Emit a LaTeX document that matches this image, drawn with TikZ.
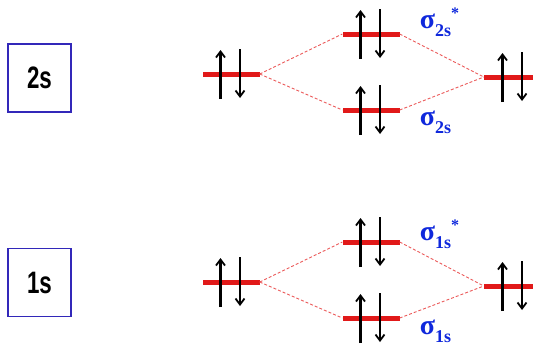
\documentclass[tikz,border=0pt]{standalone}
\usepackage{fontspec}
\setmainfont{Liberation Serif}
\newfontfamily\boxfont{Liberation Sans}
\usetikzlibrary{arrows.meta}
\definecolor{levred}{RGB}{225,25,25}
\definecolor{dashred}{RGB}{235,90,90}
\definecolor{boxblue}{RGB}{50,40,185}
\definecolor{labblue}{RGB}{15,40,220}
\newcommand\pairarrows[1]{%
  \draw[spin] ([xshift=-10.5bp,yshift=-25bp]#1.center) -- ([xshift=-10.5bp,yshift=24bp]#1.center);
  \draw[spin] ([xshift=9bp,yshift=25bp]#1.center) -- ([xshift=9bp,yshift=-24bp]#1.center);}
\newcommand\molab[2]{σ\raisebox{-8bp}{\fontsize{18bp}{18bp}\selectfont #1}#2}
\newcommand\starmark{\raisebox{10bp}{\fontsize{16bp}{16bp}\selectfont *}}
\begin{document}
\begin{tikzpicture}[x=1bp,y=-1bp,
  level/.style={fill=levred,inner sep=0pt,minimum height=5bp,minimum width=57bp},
  orb/.style={draw=boxblue,line width=1.1bp,minimum width=63bp,minimum height=68bp,inner sep=0pt,font=\boxfont\bfseries\fontsize{31bp}{31bp}\selectfont},
  corr/.style={dashred,line width=0.9bp,dash pattern=on 3bp off 2bp},
  spin/.style={line width=2.4bp,-{Straight Barb[length=6bp,width=9bp,line width=1.8bp]}},
  mo/.style={text=labblue,inner sep=0pt,anchor=base west,font=\bfseries\fontsize{28bp}{28bp}\selectfont}
]
\useasboundingbox (0,0) rectangle (533,346);
\clip (0,0) rectangle (533,346);

% boxes
\node[orb] (b2) at (39.5,78) {\scalebox{0.72}[1]{2s}};
\node[orb] (b1) at (39.5,282.5) {\scalebox{0.72}[1]{1s}};

% 2s levels
\node[level] (L2) at (231,74) {};
\node[level] (A2) at (371,34) {};
\node[level] (B2) at (371,110) {};
\node[level, minimum width=58bp] (R2) at (513,77) {};
% 1s levels
\node[level] (L1) at (231,282) {};
\node[level] (A1) at (371,242) {};
\node[level] (B1) at (371,318) {};
\node[level, minimum width=58bp] (R1) at (513,286) {};

% correlation lines
\draw[corr] (L2.east) -- (A2.west);
\draw[corr] (L2.east) -- (B2.west);
\draw[corr] (A2.east) -- (R2.west);
\draw[corr] (B2.east) -- (R2.west);
\draw[corr] (L1.east) -- (A1.west);
\draw[corr] (L1.east) -- (B1.west);
\draw[corr] (A1.east) -- (R1.west);
\draw[corr] (B1.east) -- (R1.west);

% electrons
\pairarrows{L2}
\pairarrows{A2}
\pairarrows{B2}
\pairarrows{R2}
\pairarrows{L1}
\pairarrows{A1}
\pairarrows{B1}
\pairarrows{R1}

% labels
\node[mo] (tA2) at ([xshift=20bp,yshift=6bp]A2.east) {\molab{2s}{\starmark}};
\node[mo] (tB2) at ([xshift=20bp,yshift=-15bp]B2.east) {\molab{2s}{}};
\node[mo] (tA1) at ([xshift=20bp,yshift=2bp]A1.east) {\molab{1s}{\starmark}};
\node[mo] (tB1) at ([xshift=20bp,yshift=-16bp]B1.east) {\molab{1s}{}};
\end{tikzpicture}
\end{document}
